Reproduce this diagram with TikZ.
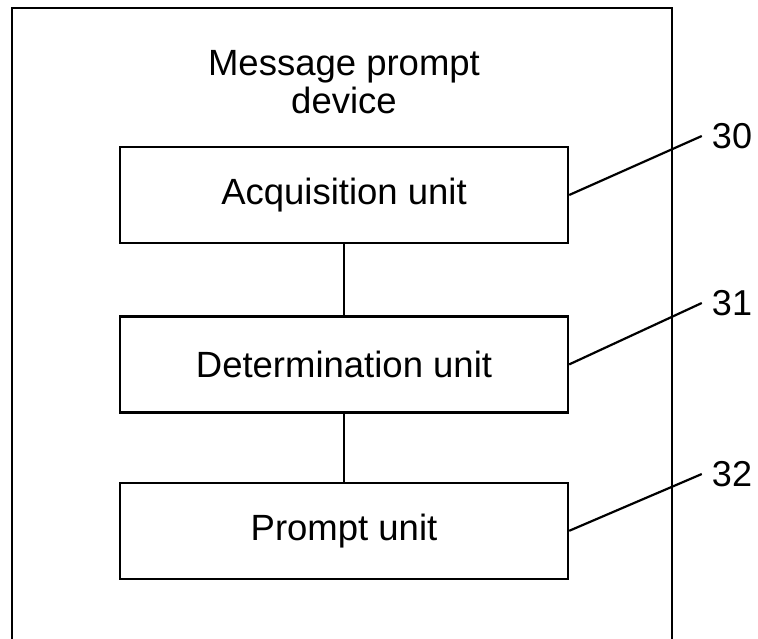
\documentclass[tikz,border=0pt]{standalone}
\usepackage{fontspec}
\setmainfont{Liberation Sans}
\usetikzlibrary{positioning}

\begin{document}
\begin{tikzpicture}[x=1pt,y=-1pt]
\tikzstyle{unit} = [draw, line width=2.4pt, minimum width=448pt, minimum height=96pt, inner sep=0pt, font=\fontsize{36.5}{38}\selectfont]
\tikzstyle{refnum} = [inner sep=10pt, font=\fontsize{36}{38}\selectfont]
\useasboundingbox (0,0) rectangle (758,638);
% device frame, open at the bottom
\coordinate (fl) at (12,640);
\coordinate (ftr) at (672,8);
\coordinate (fr) at (672,640);
\draw [line width=2.4pt] (fl) |- (ftr) -- (fr);
\node [align=center, font=\fontsize{36.5}{38}\selectfont] (title) at (344,82) {Message prompt\\device};
% units
\node [unit] (acq) at (344,195) {Acquisition unit};
\node [unit, below=71pt of acq] (det) {Determination unit};
\node [unit, below=68pt of det] (prm) {Prompt unit};
\draw [line width=2pt] (acq) -- (det);
\draw [line width=2pt] (det) -- (prm);
% reference numerals
\node [refnum] (n30) at (732,136) {30};
\node [refnum] (n31) at (732,303) {31};
\node [refnum] (n32) at (732,474) {32};
\draw [line width=2.2pt] (acq.east) -- (n30.west);
\draw [line width=2.2pt] (det.east) -- (n31.west);
\draw [line width=2.2pt] (prm.east) -- (n32.west);
\end{tikzpicture}
\end{document}
